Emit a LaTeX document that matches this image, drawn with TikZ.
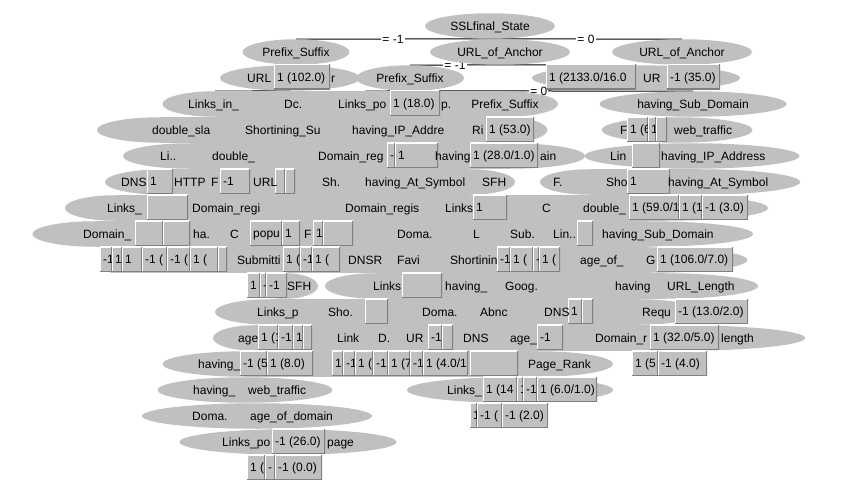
\documentclass[tikz,border=0pt]{standalone}
\usepackage{fontspec}
\setmainfont{Liberation Sans}
\usetikzlibrary{shapes.geometric}
\pgfdeclarelayer{bg}
\pgfsetlayers{bg,main}
\definecolor{eg}{RGB}{192,192,192}
\definecolor{dg}{RGB}{128,128,128}
\tikzset{
  ell/.style={ellipse, fill=eg, inner sep=0pt, minimum height=25.5pt, text height=10pt, text depth=1.5pt},
  lf/.style={rectangle, fill=eg, anchor=west, inner xsep=3pt, inner ysep=0pt, minimum height=25pt,
    text height=10pt, text depth=1.5pt,
    path picture={\draw[white,line width=2pt] (path picture bounding box.south west) |- (path picture bounding box.north east);
                  \draw[dg,line width=2pt] (path picture bounding box.south west) -| (path picture bounding box.north east);}},
  txt/.style={anchor=base west, inner sep=0pt},
  conn/.style={draw=black, line width=1pt},
  elab/.style={fill=white, inner sep=1pt, text height=10pt, text depth=1.5pt}
}
\newcommand{\el}[5]{\node[ell, minimum width=#4pt] (#1) at (#2,#3) {#5};}
\newcommand{\lfb}[5]{\node[lf] (#1) at (#2,#3) {\makebox[\dimexpr#4pt-6pt\relax][l]{#5}};}
\newcommand{\tx}[4]{\node[txt] (#1) at (#2,#3+4.3) {#4};}
\newcommand{\rowfill}[3]{\fill[eg] (#1,#3-13) rectangle (#2,#3+13);}
\begin{document}
\begin{tikzpicture}[x=1pt,y=-1pt,font=\fontsize{12pt}{14pt}\selectfont]
\useasboundingbox (0,0) rectangle (844,495);
% ---- row fills
\rowfill{215}{505}{104}
\rowfill{160}{505}{130}
\rowfill{190}{510}{156}
\rowfill{165}{470}{182}
\rowfill{590}{700}{182}
\rowfill{115}{665}{208}
\rowfill{95}{647}{234}
\rowfill{110}{650}{260}
\rowfill{375}{665}{286}
\rowfill{270}{640}{312}
\rowfill{255}{680}{338}
\rowfill{246}{538}{364}
% ---- ellipses
\el{n0}{490}{26}{130}{SSLfinal\_State}
\el{n1a}{296}{52}{107}{Prefix\_Suffix}
\el{n1b}{500}{52}{140}{URL\_of\_Anchor}
\el{n1c}{682}{52}{140}{URL\_of\_Anchor}
\el{n2a}{290}{78}{140}{}
\el{n2b}{410}{78}{108}{Prefix\_Suffix}
\el{n2c}{636}{78}{208}{}
\el{n3a}{215}{104}{105}{}
\el{n3b}{300}{104}{110}{}
\el{n3c}{365}{104}{100}{}
\el{n3d}{505}{104}{106}{Prefix\_Suffix}
\el{n3e}{693}{104}{187}{having\_Sub\_Domain}
\el{n4a}{160}{130}{126}{}
\el{n4b}{283}{130}{125}{}
\el{n4c}{405}{130}{130}{}
\el{n4d}{505}{130}{85}{}
\el{n4e}{677}{130}{151}{}
\el{n5a}{190}{156}{134}{}
\el{n5b}{330}{156}{120}{}
\el{n5c}{510}{156}{150}{}
\el{n5d}{692}{156}{215}{}
\el{n6a}{165}{182}{120}{}
\el{n6b}{250}{182}{100}{}
\el{n6c}{340}{182}{90}{}
\el{n6d}{415}{182}{130}{}
\el{n6e}{470}{182}{90}{}
\el{n6f}{590}{182}{100}{}
\el{n6g}{700}{182}{200}{}
\el{n7a}{115}{208}{100}{}
\el{n7b}{228}{208}{120}{}
\el{n7c}{300}{208}{100}{}
\el{n7d}{383}{208}{110}{}
\el{n7e}{470}{208}{90}{}
\el{n7f}{545}{208}{100}{}
\el{n7g}{665}{208}{206}{}
\el{n8a}{95}{234}{125}{}
\el{n8b}{215}{234}{80}{}
\el{n8c}{330}{234}{80}{}
\el{n8d}{415}{234}{110}{}
\el{n8e}{490}{234}{90}{}
\el{n8f}{647}{234}{212}{}
\el{n9a}{258}{260}{65}{}
\el{n9b}{372}{260}{70}{}
\el{n9c}{415}{260}{60}{}
\el{n9d}{475}{260}{70}{}
\el{n9e}{650}{260}{195}{}
\el{n10a}{285}{286}{66}{}
\el{n10b}{375}{286}{100}{}
\el{n10c}{480}{286}{110}{}
\el{n10e}{555}{286}{60}{}
\el{n10d}{665}{286}{186}{}
\el{n11a}{270}{312}{110}{}
\el{n11b}{345}{312}{80}{}
\el{n11c}{440}{312}{100}{}
\el{n11d}{505}{312}{80}{}
\el{n11e}{555}{312}{60}{}
\el{n11f}{640}{312}{120}{}
\el{n12a}{255}{338}{84}{}
\el{n12b}{350}{338}{80}{}
\el{n12c}{420}{338}{80}{}
\el{n12d}{490}{338}{90}{}
\el{n12e}{680}{338}{250}{}
\el{n13a}{246}{364}{167}{}
\el{n13b}{538}{364}{150}{}
\el{n14a}{245}{390}{175}{}
\el{n14b}{510}{390}{206}{}
\el{n15a}{257}{416}{230}{}
\el{n16a}{288}{442}{217}{}
% ---- leaves
\lfb{l2a}{274}{77}{56}{1 (102.0)}
\lfb{l2b}{546}{77}{90}{1 (2133.0/16.0}
\lfb{l2c}{667}{77}{53}{-1 (35.0)}
\lfb{l3a}{390}{103}{50}{1 (18.0)}
\lfb{l4a}{486}{129}{48}{1 (53.0)}
\lfb{l4b}{627}{129}{21}{1 (6}
\lfb{l4c}{648}{129}{8}{1}
\lfb{l4d}{656}{129}{11}{}
\lfb{l5a}{387}{155}{8}{-1}
\lfb{l5b}{395}{155}{43}{1}
\lfb{l5c}{470}{155}{68}{1 (28.0/1.0)}
\lfb{l5d}{632}{155}{28}{}
\lfb{l6a}{147}{181}{26}{1}
\lfb{l6b}{220}{181}{30}{-1}
\lfb{l6c}{275}{181}{10}{}
\lfb{l6d}{285}{181}{10}{}
\lfb{l6e}{627}{181}{43}{1}
\lfb{l7a}{147}{207}{41}{}
\lfb{l7b}{473}{207}{34}{1}
\lfb{l7c}{629}{207}{50}{1 (59.0/1}
\lfb{l7d}{679}{207}{23}{1 (1}
\lfb{l7e}{702}{207}{46}{-1 (3.0)}
\lfb{l8a}{135}{233}{28}{}
\lfb{l8b}{163}{233}{27}{}
\lfb{l8c}{250}{233}{32}{popu}
\lfb{l8d}{282}{233}{18}{1}
\lfb{l8e}{313}{233}{10}{1}
\lfb{l8f}{323}{233}{30}{}
\lfb{l8g}{577}{233}{16}{}
\lfb{l9a}{100}{259}{12}{-1}
\lfb{l9b}{112}{259}{10}{1}
\lfb{l9c}{122}{259}{20}{1}
\lfb{l9d}{142}{259}{25}{-1 (}
\lfb{l9e}{167}{259}{23}{-1 (}
\lfb{l9f}{190}{259}{28}{1 (}
\lfb{l9g}{218}{259}{9}{}
\lfb{l9h}{283}{259}{17}{1 (}
\lfb{l9i}{300}{259}{12}{-1}
\lfb{l9j}{312}{259}{28}{1 (}
\lfb{l9k}{497}{259}{13}{-1}
\lfb{l9l}{510}{259}{23}{1 (}
\lfb{l9m}{533}{259}{6}{-}
\lfb{l9n}{539}{259}{21}{1 (}
\lfb{l9o}{657}{259}{76}{1 (106.0/7.0)}
\lfb{l10a}{247}{285}{13}{1}
\lfb{l10b}{260}{285}{6}{-}
\lfb{l10c}{266}{285}{21}{-1}
\lfb{l10d}{402}{285}{40}{}
\lfb{l11a}{365}{311}{23}{}
\lfb{l11b}{568}{311}{14}{1}
\lfb{l11c}{582}{311}{11}{}
\lfb{l11d}{675}{311}{73}{-1 (13.0/2.0)}
\lfb{l12a}{258}{337}{20}{1 (1}
\lfb{l12b}{278}{337}{15}{-1}
\lfb{l12c}{293}{337}{10}{1 -}
\lfb{l12d}{303}{337}{9}{}
\lfb{l12f}{428}{337}{14}{-1}
\lfb{l12g}{442}{337}{11}{}
\lfb{l12h}{537}{337}{26}{-1}
\lfb{l12i}{650}{337}{69}{1 (32.0/5.0)}
\lfb{l13a}{240}{363}{27}{-1 (5}
\lfb{l13b}{267}{363}{46}{1 (8.0)}
\lfb{l13c}{332}{363}{11}{1}
\lfb{l13d}{343}{363}{12}{-1}
\lfb{l13e}{355}{363}{18}{1 (}
\lfb{l13f}{373}{363}{15}{-1}
\lfb{l13g}{388}{363}{22}{1 (7}
\lfb{l13h}{410}{363}{13}{-1}
\lfb{l13i}{423}{363}{45}{1 (4.0/1}
\lfb{l13j}{470}{363}{48}{}
\lfb{l13k}{632}{363}{26}{1 (5}
\lfb{l13l}{658}{363}{49}{-1 (4.0)}
\lfb{l14a}{483}{389}{34}{1 (14}
\lfb{l14b}{517}{389}{6}{1}
\lfb{l14c}{523}{389}{14}{-1}
\lfb{l14d}{537}{389}{60}{1 (6.0/1.0)}
\lfb{l15a}{470}{415}{7}{1}
\lfb{l15b}{477}{415}{25}{-1 (}
\lfb{l15c}{502}{415}{46}{-1 (2.0)}
\lfb{l16a}{272}{441}{53}{-1 (26.0)}
\lfb{l17a}{247}{467}{18}{1 (}
\lfb{l17b}{265}{467}{10}{-}
\lfb{l17c}{275}{467}{47}{-1 (0.0)}
% ---- visible text fragments
\tx{t2a}{247}{78}{URL} \tx{t2b}{331}{78}{r} \tx{t2c}{643}{78}{UR}
\tx{t3a}{188}{104}{Links\_in\_} \tx{t3b}{284}{104}{Dc.} \tx{t3c}{338}{104}{Links\_po} \tx{t3d}{441}{104}{p.}
\tx{t4a}{152}{130}{double\_sla} \tx{t4b}{245}{130}{Shortining\_Su} \tx{t4c}{352}{130}{having\_IP\_Addre}
\tx{t4d}{472}{130}{Ri} \tx{t4e}{620}{130}{F} \tx{t4f}{674}{130}{web\_traffic}
\tx{t5a}{160}{156}{Li..} \tx{t5b}{212}{156}{double\_} \tx{t5c}{318}{156}{Domain\_reg} \tx{t5d}{435}{156}{having}
\tx{t5e}{540}{156}{ain} \tx{t5f}{610}{156}{Lin} \tx{t5g}{661}{156}{having\_IP\_Address}
\tx{t6a}{121}{182}{DNS} \tx{t6b}{174}{182}{HTTP} \tx{t6c}{211}{182}{F} \tx{t6d}{253}{182}{URL} \tx{t6e}{322}{182}{Sh.}
\tx{t6f}{365}{182}{having\_At\_Symbol} \tx{t6g}{482}{182}{SFH} \tx{t6h}{553}{182}{F.} \tx{t6i}{606}{182}{Sho}
\tx{t6j}{668}{182}{having\_At\_Symbol}
\tx{t7a}{107}{208}{Links\_} \tx{t7b}{192}{208}{Domain\_regi} \tx{t7c}{345}{208}{Domain\_regis} \tx{t7d}{445}{208}{Links}
\tx{t7f}{542}{208}{C} \tx{t7g}{583}{208}{double\_}
\tx{t8a}{83}{234}{Domain\_} \tx{t8b}{193}{234}{ha.} \tx{t8c}{230}{234}{C} \tx{t8d}{304}{234}{F} \tx{t8e}{397}{234}{Doma.}
\tx{t8f}{473}{234}{L} \tx{t8g}{510}{234}{Sub.} \tx{t8h}{553}{234}{Lin..} \tx{t8i}{602}{234}{having\_Sub\_Domain}
\tx{t9a}{237}{260}{Submitti} \tx{t9b}{348}{260}{DNSR} \tx{t9c}{397}{260}{Favi} \tx{t9d}{450}{260}{Shortinin}
\tx{t9e}{580}{260}{age\_of\_} \tx{t9f}{646}{260}{G}
\tx{t10a}{287}{286}{SFH} \tx{t10b}{373}{286}{Links} \tx{t10c}{445}{286}{having\_} \tx{t10d}{505}{286}{Goog.}
\tx{t10e}{615}{286}{having} \tx{t10f}{667}{286}{URL\_Length}
\tx{t11a}{257}{312}{Links\_p} \tx{t11b}{328}{312}{Sho.} \tx{t11c}{422}{312}{Doma.} \tx{t11d}{480}{312}{Abnc}
\tx{t11e}{544}{312}{DNS} \tx{t11f}{642}{312}{Requ}
\tx{t12a}{238}{338}{age} \tx{t12b}{337}{338}{Link} \tx{t12c}{378}{338}{D.} \tx{t12d}{406}{338}{UR} \tx{t12e}{463}{338}{DNS}
\tx{t12f}{510}{338}{age\_} \tx{t12g}{595}{338}{Domain\_r} \tx{t12h}{721}{338}{length}
\tx{t13a}{198}{364}{having\_} \tx{t13b}{528}{364}{Page\_Rank}
\tx{t14a}{193}{390}{having\_} \tx{t14b}{248}{390}{web\_traffic} \tx{t14c}{447}{390}{Links\_}
\tx{t15a}{192}{416}{Doma.} \tx{t15b}{250}{416}{age\_of\_domain}
\tx{t16a}{222}{442}{Links\_po} \tx{t16b}{327}{442}{page}
% ---- connectors (behind the nodes)
\begin{pgfonlayer}{bg}
\fill[white] (0,0) rectangle (844,495);
\draw[conn] (n0.south) -- node[elab]{= -1} (n1a.north);
\draw[conn] (n0.south) -- node[elab]{= 0} (n1c.north);
\draw[conn] (n1b.south) -- node[elab]{= -1} (n2b.north);
\draw[conn] (n1b.south) -- (n2c.north);
\draw[conn] (n2a.south) -- (n3a.north);
\draw[conn] (n2b.south) -- (n3c.north);
\draw[conn] (n2b.south) -- node[elab, pos=0.455]{= 0} (n3e.north);
\end{pgfonlayer}
\end{tikzpicture}
\end{document}
